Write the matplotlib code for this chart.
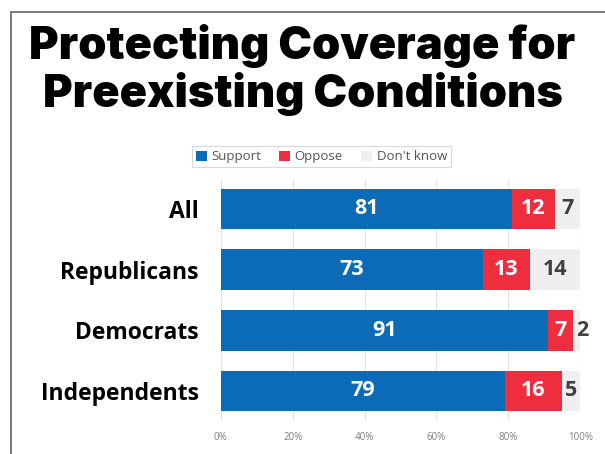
import matplotlib.pyplot as plt
import numpy as np
from matplotlib.patches import Rectangle
from matplotlib.ticker import PercentFormatter

groups = ["All", "Republicans", "Democrats", "Independents"]
support = [81, 73, 91, 79]
oppose = [12, 13, 7, 16]
dont_know = [7, 14, 2, 5]

series_names = ["Support", "Oppose", "Don't know"]
colors = ["#0b6bb7", "#ee2d3f", "#efefef"]
label_colors = ["white", "white", "#404040"]

fig = plt.figure(figsize=(6.05, 4.54), dpi=100)
ax = fig.add_axes([0.365, 0.075, 0.594, 0.529])

# outer frame (left/top only, cropped on the right)
fig.patches.append(Rectangle((11 / 605, -0.1), 1.2, 1 - 12 / 454 + 0.1,
                             transform=fig.transFigure, fill=False,
                             edgecolor="#707070", linewidth=1.3))

fig.text(0.5, 0.846, "Protecting Coverage for\nPreexisting Conditions",
         ha="center", va="center", fontsize=32.5, fontweight=900,
         family="Inter", linespacing=1.1, color="black")

y = np.arange(len(groups))
left = np.zeros(len(groups))
for vals, name, col, lcol in zip([support, oppose, dont_know], series_names, colors, label_colors):
    vals = np.array(vals)
    ax.barh(y, vals, left=left, height=0.67, color=col, label=name)
    for yi, l, v in zip(y, left, vals):
        cx = l + v / 2
        if v <= 2:
            cx = l + v + 0.6
        ax.text(cx, yi, str(v), ha="center", va="center", color=lcol,
                fontsize=15.5, fontweight="bold", family="Open Sans")
    left = left + vals

ax.set_xlim(0, 100)
ax.set_ylim(3.48, -0.48)
ax.set_yticks(y)
ax.set_yticklabels(groups, fontsize=16.5, fontweight="bold", family="Open Sans")
ax.tick_params(axis="y", length=0, pad=16)
ax.set_xticks(np.arange(0, 101, 20))
ax.xaxis.set_major_formatter(PercentFormatter(decimals=0))
ax.tick_params(axis="x", length=0, labelsize=7, labelcolor="#808080", pad=9)
for lab in ax.get_xticklabels():
    lab.set_family("Open Sans")
ax.grid(axis="x", color="#e3e3e3", linewidth=0.8)
ax.set_axisbelow(True)
for s in ax.spines.values():
    s.set_visible(False)

leg = ax.legend(loc="center", bbox_to_anchor=(0.28, 1.096), ncol=3, frameon=True,
                handlelength=0.8, handleheight=0.8, handletextpad=0.35,
                columnspacing=1.4, borderpad=0.3, fancybox=False,
                prop={"family": "Open Sans", "size": 9.5})
leg.get_frame().set_edgecolor("#d0d0d0")
leg.get_frame().set_linewidth(0.8)
for t in leg.get_texts():
    t.set_color("#555555")

fig.savefig("out.png", dpi=100)
plt.close(fig)
